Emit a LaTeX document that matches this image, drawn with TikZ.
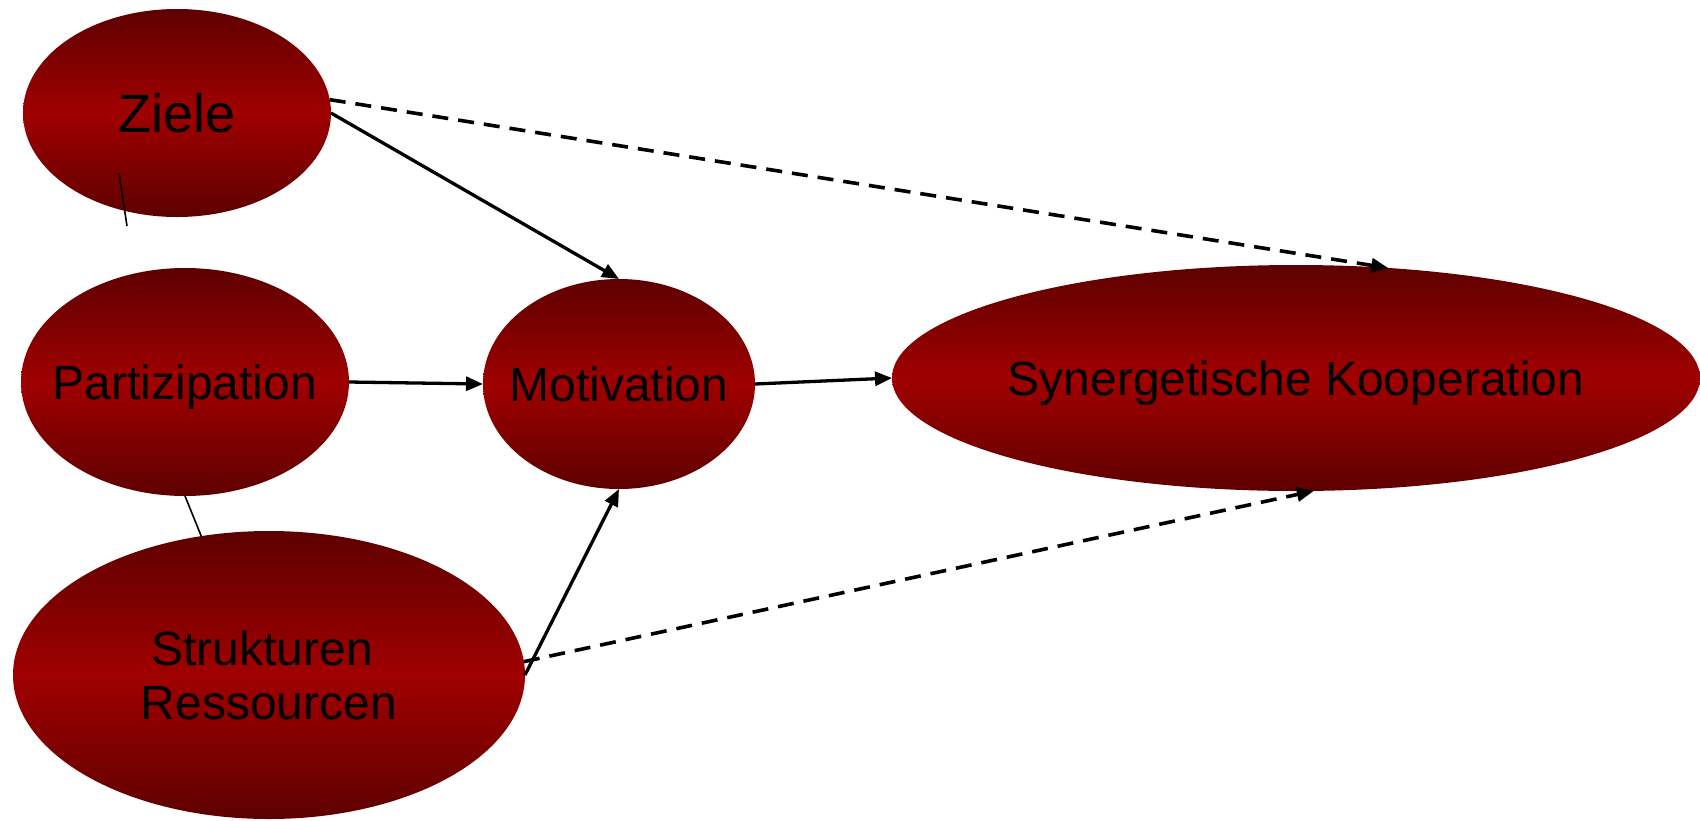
\documentclass[tikz,border=0pt]{standalone}
\usepackage{fontspec}
\setmainfont{Liberation Sans}
\usetikzlibrary{shapes.geometric,arrows.meta}

\definecolor{rimred}{RGB}{94,0,0}
\definecolor{corered}{RGB}{160,0,0}

% zero-width label, so the text does not widen the ellipse
\newcommand{\lbl}[1]{\makebox[0pt]{#1}}

\tikzset{
  blob/.style={ellipse, inner sep=0pt, outer sep=0pt,
    top color=rimred, bottom color=rimred, middle color=corered,
    font=\fontsize{48}{54}\selectfont, align=center,
    text height=34pt, text depth=0pt},
  flow/.style={line width=3.3pt, -{Triangle[length=17pt,width=14pt]}},
  hint/.style={flow, line width=3.6pt, dash pattern=on 16pt off 10pt},
  thin/.style={line width=1.6pt}
}

\begin{document}
\begin{tikzpicture}[x=1pt, y=-1pt]
        \useasboundingbox (0, 0) rectangle (1700, 820);

        \node [blob, minimum width=308, minimum height=208, text height=39pt,
               font=\fontsize{54}{60}\selectfont] (ziele)  at (177, 113) {\lbl{Ziele}};
        \node [blob, minimum width=328, minimum height=228] (part)  at (185, 382) {\lbl{Partizipation}};
        \node [blob, minimum width=272, minimum height=210] (motiv) at (619, 384) {\lbl{Motivation}};
        \node [blob, minimum width=808, minimum height=226] (syn)   at (1296, 378) {\lbl{Synergetische Kooperation}};
        \node [blob, minimum width=512, minimum height=288, text height=88pt, text depth=-6pt]
              (struk) at (269, 675) {\lbl{Strukturen\ }\\\lbl{Ressourcen}};

        \coordinate (stubtop) at (119, 173);
        \coordinate (stubend) at (127, 226);

        \draw [flow] (ziele.east) -- (motiv.north);
        \draw [hint] (ziele.5)    -- (syn.50);
        \draw [flow] (part.east)  -- (motiv.west);
        \draw [flow] (motiv.east) -- (syn.west);
        \draw [flow] (struk.east) -- (motiv.south);
        \draw [hint] (struk.3)    -- (syn.-81);
        \draw [thin] (stubtop)    -- (stubend);
        \draw [thin] (part.south) -- (struk.116);
        \end{tikzpicture}
\end{document}
